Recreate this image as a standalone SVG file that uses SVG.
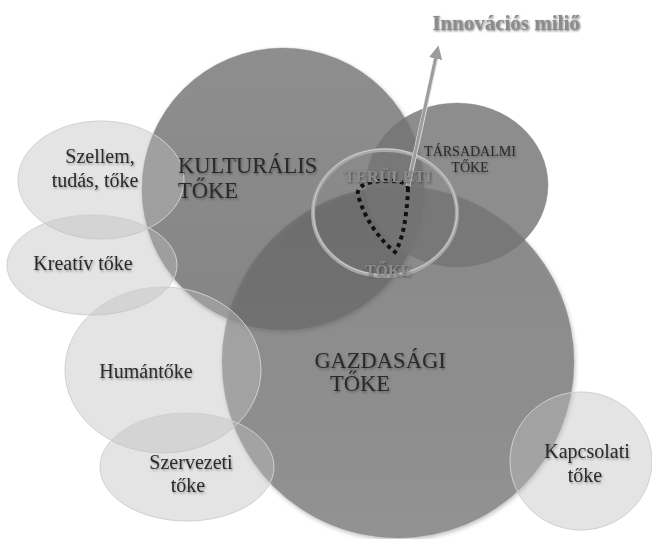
<svg xmlns="http://www.w3.org/2000/svg" width="652" height="539" viewBox="0 0 652 539">
<defs>
<linearGradient id="gK" x1="0" y1="0" x2="0" y2="1"><stop offset="0" stop-color="#8e8e8e"/><stop offset="1" stop-color="#858585"/></linearGradient>
<linearGradient id="gG" x1="0" y1="0" x2="0" y2="1"><stop offset="0" stop-color="#6a6a6a"/><stop offset="1" stop-color="#767676"/></linearGradient>
<filter id="sh" x="-10%" y="-10%" width="130%" height="130%"><feDropShadow dx="1" dy="2" stdDeviation="2" flood-color="#000" flood-opacity="0.35"/></filter>
<filter id="tsh" x="-10%" y="-30%" width="130%" height="170%"><feDropShadow dx="1" dy="1.5" stdDeviation="1.2" flood-color="#000" flood-opacity="0.35"/></filter>
<filter id="tsh2" x="-10%" y="-30%" width="130%" height="170%"><feDropShadow dx="1" dy="1" stdDeviation="0.8" flood-color="#333" flood-opacity="0.7"/></filter>
<marker id="ah" viewBox="0 0 10 10" refX="5" refY="5" markerWidth="4.5" markerHeight="4.5" orient="auto-start-reverse"><path d="M0,0 L10,5 L0,10 Z" fill="#9c9c9c"/></marker>
</defs>
<style>
.big{stroke:#7a7a7a;stroke-opacity:0.35;stroke-width:1}
.light{fill:#bebebe;fill-opacity:0.42;stroke:#d0d0d0;stroke-width:1}
.t{font-family:"Liberation Serif","Times New Roman",serif;fill:#2a2a2a;text-anchor:middle;filter:url(#tsh)}
.tb{font-family:"Liberation Serif","Times New Roman",serif;font-weight:bold;fill:#8c8c8c;text-anchor:middle;filter:url(#tsh2)}
</style>
<g id="kulturalis"><circle cx="283" cy="189" r="141" fill="url(#gK)" class="big" filter="url(#sh)"/></g>
<g id="gazdasagi"><circle cx="398" cy="362" r="176" fill="url(#gG)" fill-opacity="0.7" class="big" filter="url(#sh)"/></g>
<g id="tarsadalmi"><ellipse cx="457" cy="185" rx="91" ry="82" fill="#747474" fill-opacity="0.82" class="big"/></g>
<g id="szellem"><ellipse cx="101" cy="180" rx="83" ry="59" class="light"/></g>
<g id="kreativ"><ellipse cx="92" cy="265" rx="85" ry="50" class="light"/></g>
<g id="human"><ellipse cx="163" cy="370" rx="98" ry="83" class="light"/></g>
<g id="szervezeti"><ellipse cx="187" cy="467" rx="87" ry="54" class="light"/></g>
<g id="kapcsolati"><ellipse cx="581" cy="461" rx="71" ry="69" class="light"/></g>
<g id="teruleti">
<ellipse cx="385" cy="213" rx="72" ry="63" fill="none" stroke="#a8a8a8" stroke-width="4"/>
<ellipse cx="385" cy="212" rx="72" ry="63" fill="none" stroke="#cfcfcf" stroke-width="1"/>
</g>
<g id="connectors">
<path d="M408,188 C407,215 403,240 395,252 C380,240 365,220 358,195 C356,185 370,180 390,181 C400,181 408,183 408,188 Z" fill="none" stroke="#111" stroke-width="4" stroke-dasharray="4 4"/>
<line x1="408" y1="186" x2="437" y2="54" stroke="#dcdcdc" stroke-width="4.5"/>
<line x1="408" y1="186" x2="437" y2="52" stroke="#9c9c9c" stroke-width="3" marker-end="url(#ah)"/>
</g>
<g id="labels">
<text class="tb" x="506" y="30" font-size="21">Innovációs miliő</text>
<text class="t" x="100" y="163" font-size="20">Szellem,</text>
<text class="t" x="95" y="187" font-size="20">tudás, tőke</text>
<text class="t" x="83" y="270" font-size="20">Kreatív tőke</text>
<text class="t" x="146" y="378" font-size="20">Humántőke</text>
<text class="t" x="191" y="469" font-size="20">Szervezeti</text>
<text class="t" x="188" y="492" font-size="20">tőke</text>
<text class="t" x="587" y="458" font-size="20">Kapcsolati</text>
<text class="t" x="585" y="482" font-size="20">tőke</text>
<text class="t" x="178" y="173" font-size="22.5" style="text-anchor:start">KULTURÁLIS</text>
<text class="t" x="178" y="198" font-size="22.5" style="text-anchor:start">TŐKE</text>
<text class="t" x="470" y="156" font-size="14">TÁRSADALMI</text>
<text class="t" x="470" y="172" font-size="14">TŐKE</text>
<text class="t" x="380" y="368" font-size="22.5">GAZDASÁGI</text>
<text class="t" x="360" y="391" font-size="22.5">TŐKE</text>
<text class="tb" x="388" y="182" font-size="17">TERÜLETI</text>
<text class="tb" x="388" y="276" font-size="16">TŐKE</text>
</g>
</svg>
